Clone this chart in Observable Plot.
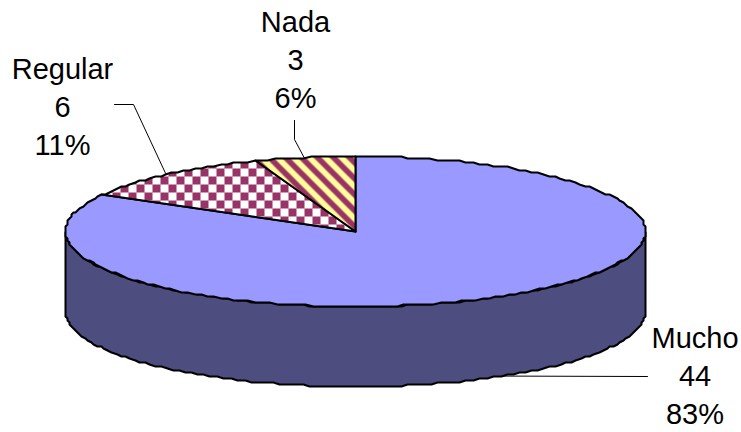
<!DOCTYPE html>
<html>
<head>
<meta charset="utf-8">
<script src="https://cdn.jsdelivr.net/npm/d3@7"></script>
<script src="https://cdn.jsdelivr.net/npm/@observablehq/plot@0.6"></script>
<style>
  html, body { margin: 0; padding: 0; background: #fff; }
  svg { display: block; }
</style>
</head>
<body>
<div id="chart"></div>
<script>
// Survey answers, clockwise from twelve o'clock.
const categories = ["Mucho", "Regular", "Nada"];
const counts = [44, 6, 3];

// Drawing plane of the tilted pie, in chart units.
const pie = {cx: 355, cy: 231, rx: 290, ry: 75, depth: 80};

// Where each label block sits and how its leader bends on the way to the slice.
const labelCentres = [[694.5, 373.5], [62, 104], [295, 57.5]];
const leaderEnds = [[[647, 376]], [[114, 104], [133, 104]], [[294, 120], [294, 139]]];

const total = d3.sum(counts);
const snap = (v) => Math.round(v / 2) * 2;
const snapOdd = (v) => Math.round((v - 1) / 2) * 2 + 1;
const point = (t, drop = 0) => ({
  x: pie.cx + pie.rx * Math.sin(t),
  y: pie.cy - pie.ry * Math.cos(t) + drop
});
// Rim vertices sit on a coarse grid, which gives the outline its stepped look.
const rim = (t, drop = 0) => {
  const p = point(t, drop);
  return {x: snap(p.x - pie.cx) + pie.cx, y: snapOdd(p.y - pie.cy) + pie.cy};
};

function arc(t0, t1, drop = 0) {
  const n = Math.max(2, Math.ceil(Math.abs(t1 - t0) / (Math.PI / 120)));
  return d3.range(n + 1).map((i) => rim(t0 + (t1 - t0) * (i / n), drop));
}

let running = 0;
const slices = counts.map((value, i) => {
  const t0 = (running / total) * 2 * Math.PI;
  running += value;
  const t1 = (running / total) * 2 * Math.PI;
  return {category: categories[i], value, t0, t1, mid: (t0 + t1) / 2};
});

const centre = {x: pie.cx, y: pie.cy};
const sliceOutline = (s) => [centre, ...arc(s.t0, s.t1), centre];
const wall = [...arc(Math.PI / 2, 3 * Math.PI / 2), ...arc(3 * Math.PI / 2, Math.PI / 2, pie.depth), rim(Math.PI / 2)];

const sliceFills = ["#9999ff", "url(#checks)", "url(#stripes)"];

// Leaders start on the rim at each slice's middle angle; the front slice's drops to the wall's base.
const leaders = slices.map((s, i) => {
  const a = point(s.mid, Math.cos(s.mid) < 0 ? pie.depth : 0);
  const rest = leaderEnds[i].map(([x, y]) => ({x, y}));
  return i === 0 ? [a, ...rest] : [...rest, a];
});

const labels = slices.map((s, i) => ({
  x: labelCentres[i][0],
  y: labelCentres[i][1],
  text: `${s.category}\n${s.value}\n${d3.format(".0%")(s.value / total)}`
}));

// Pattern tiles for the two hatched slices.
const patterns = () => {
  const defs = d3.create("svg:defs");
  const checks = defs.append("pattern").attr("id", "checks").attr("patternUnits", "userSpaceOnUse")
    .attr("width", 16).attr("height", 16);
  checks.append("rect").attr("width", 16).attr("height", 16).attr("fill", "#ffffff");
  checks.append("rect").attr("width", 8).attr("height", 8).attr("fill", "#993366");
  checks.append("rect").attr("x", 8).attr("y", 8).attr("width", 8).attr("height", 8).attr("fill", "#993366");
  const stripes = defs.append("pattern").attr("id", "stripes").attr("patternUnits", "userSpaceOnUse")
    .attr("width", 16).attr("height", 16);
  stripes.append("rect").attr("width", 16).attr("height", 16).attr("fill", "#ffff99");
  stripes.append("path").attr("fill", "#993366").attr("d", "M0 0L4 0L16 12L16 16L12 16L0 4ZM12 0L16 0L16 4ZM0 12L4 16L0 16Z");
  return defs.node();
};

const outline = {x: "x", y: "y", stroke: "#000", strokeWidth: 2, strokeLinejoin: "round"};

const chart = Plot.plot({
  width: 741,
  height: 432,
  margin: 0,
  x: {axis: null, domain: [0, 741], range: [0, 741]},
  y: {axis: null, domain: [0, 432], range: [0, 432]},
  style: {background: "#fff", fontFamily: "'Liberation Sans', Arial, sans-serif"},
  marks: [
    patterns,
    Plot.line(wall, {...outline, fill: "#4d4d80"}),
    ...slices.map((s, i) => Plot.line(sliceOutline(s), {...outline, fill: sliceFills[i]})),
    ...leaders.map((l) => Plot.line(l, {x: "x", y: "y", stroke: "#000", strokeWidth: 1})),
    Plot.text(labels, {x: "x", y: "y", text: "text", fontSize: 29, lineHeight: 1.31, fill: "#000", textAnchor: "middle"})
  ]
});
document.getElementById("chart").append(chart);
</script>
</body>
</html>
